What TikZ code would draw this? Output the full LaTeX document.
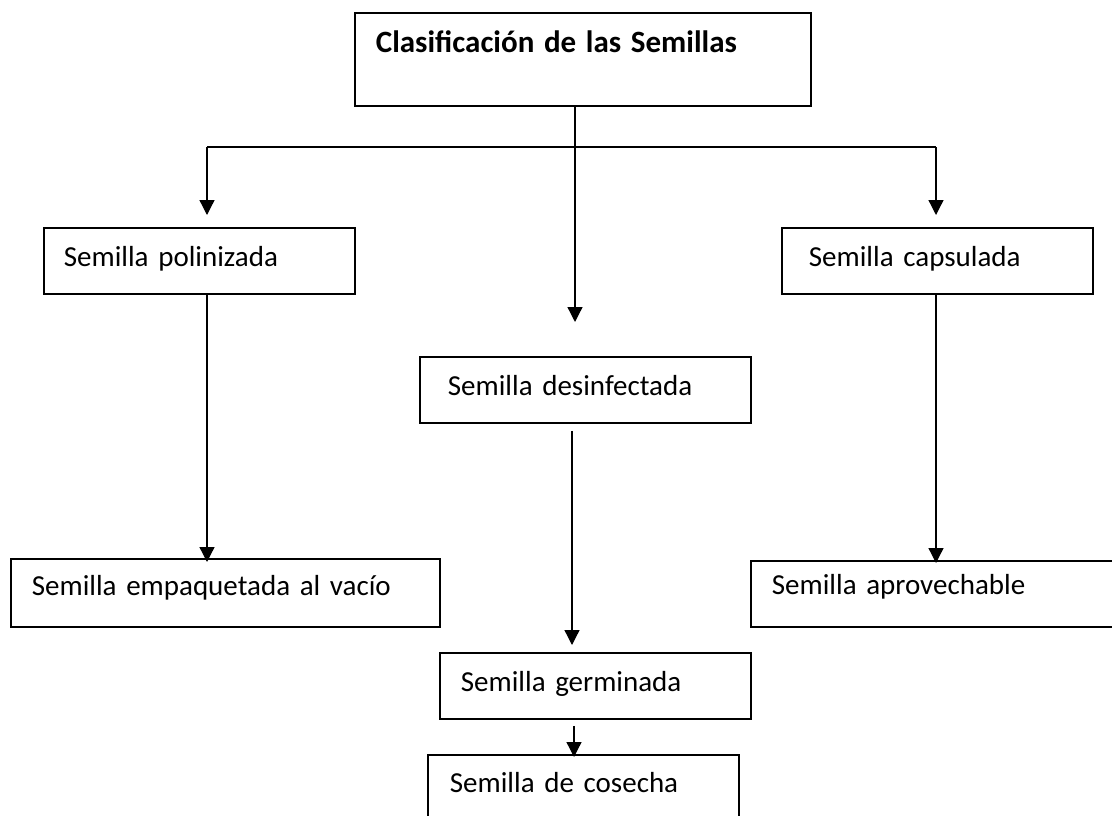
\documentclass[tikz,border=0pt]{standalone}
\usepackage{fontspec}
\setmainfont{Carlito}
\usetikzlibrary{arrows.meta}
\begin{document}
\begin{tikzpicture}[x=1pt,y=-1pt,
  sbox/.style={draw, line width=1.8pt, inner xsep=0pt, inner ysep=0pt,
    anchor=north west, align=left, font=\fontsize{29}{34}\selectfont},
  conn/.style={line width=1.3pt},
  arr/.style={conn, -{Triangle[width=15pt,length=15pt]}}]
\useasboundingbox (0,0) rectangle (1112,816);
\fill[white] (0,0) rectangle (1112,816);
\clip (0,0) rectangle (1112,816);
% boxes
\node[sbox, text width=456pt, text height=40pt, text depth=53pt] (title) at (354,12)
  {\hspace*{21pt}{\fontsize{31}{36}\selectfont\bfseries Clasificación de las Semillas}};
\node[sbox, text width=311pt, text height=39pt, text depth=27pt] (poliniz) at (43,227)
  {\hspace*{20pt}Semilla polinizada};
\node[sbox, text width=311pt, text height=39pt, text depth=27pt] (capsul) at (781,227)
  {\hspace*{27pt}Semilla capsulada};
\node[sbox, text width=331pt, text height=39pt, text depth=27pt] (desinf) at (419,356)
  {\hspace*{28pt}Semilla desinfectada};
\node[sbox, text width=429pt, text height=37pt, text depth=31pt] (empaq) at (10,558)
  {\hspace*{21pt}Semilla empaquetada al vacío};
\node[sbox, text width=370pt, text height=34pt, text depth=32pt] (aprov) at (750,560)
  {\hspace*{21pt}Semilla aprovechable};
\node[sbox, text width=311pt, text height=39pt, text depth=27pt] (germ) at (439,652)
  {\hspace*{21pt}Semilla germinada};
\node[sbox, text width=311pt, text height=38pt, text depth=40pt] (cos) at (427,754)
  {\hspace*{22pt}Semilla de cosecha};
% junctions and free arrow ends
\coordinate (jm) at (575,147);
\coordinate (jl) at (207,147);
\coordinate (jr) at (936,147);
\coordinate (tm) at (575,322);
\coordinate (tl) at (207,215);
\coordinate (tr) at (936,215);
\coordinate (xm) at (572,0);
\coordinate (xb) at (574,0);
% connectors
\draw[arr] (title.south -| jm) -- (tm);
\draw[conn] (jl) -- (jr);
\draw[arr] (jl) -- (tl);
\draw[arr] (jr) -- (tr);
\draw[arr, shorten >=-4pt] (poliniz.south -| jl) -- (empaq.north -| jl);
\draw[arr, shorten >=-3pt] (capsul.south -| jr) -- (aprov.north -| jr);
\draw[arr, shorten <=7pt, shorten >=7pt] (desinf.south -| xm) -- (germ.north -| xm);
\draw[arr, shorten <=6pt, shorten >=-3pt] (germ.south -| xb) -- (cos.north -| xb);
\end{tikzpicture}
\end{document}
